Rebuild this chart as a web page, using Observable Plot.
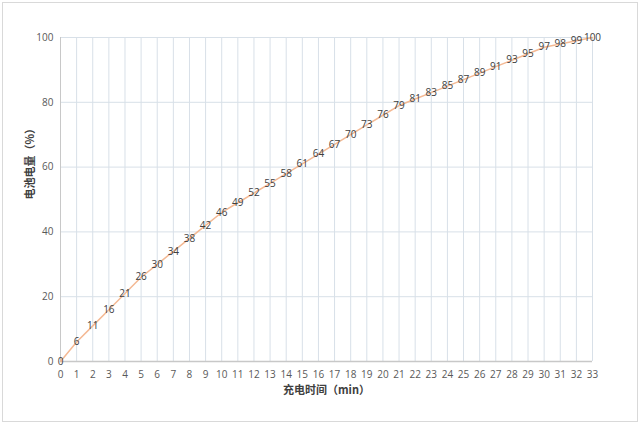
<!DOCTYPE html>
<html>
<head>
<meta charset="utf-8">
<script src="https://cdn.jsdelivr.net/npm/d3@7"></script>
<script src="https://cdn.jsdelivr.net/npm/@observablehq/plot@0.6"></script>
<style>
  html, body { margin: 0; padding: 0; background: #fff; }
  #chart svg { display: block; outline: 1px solid #d9d9d9; outline-offset: -3px; }
</style>
</head>
<body>
<div id="chart"></div>
<script>
const minutes = [0,1,2,3,4,5,6,7,8,9,10,11,12,13,14,15,16,17,18,19,20,21,22,23,24,25,26,27,28,29,30,31,32,33];
const battery = [0,6,11,16,21,26,30,34,38,42,46,49,52,55,58,61,64,67,70,73,76,79,81,83,85,87,89,91,93,95,97,98,99,100];
const xTicks = minutes;
const yTicks = [0,20,40,60,80,100];
const xLabel = "充电时间（min）";
const yLabel = "电池电量（%）";

const data = minutes.map((m, i) => ({m, v: battery[i]}));

const chart = Plot.plot({
  width: 640,
  height: 424,
  marginLeft: 60,
  marginRight: 48,
  marginTop: 37,
  marginBottom: 63,
  style: {fontFamily: "'Open Sans', 'Noto Sans CJK SC', sans-serif", fontSize: "10px", color: "#595959", background: "#fff"},
  x: {domain: [0, 33], ticks: xTicks, tickSize: 0, tickPadding: 9, label: null},
  y: {domain: [0, 100], ticks: yTicks, tickSize: 0, tickPadding: 7, label: null},
  marks: [
    Plot.gridX(xTicks, {stroke: "#d8e0e8", strokeOpacity: 1}),
    Plot.gridY(yTicks, {stroke: "#d8e0e8", strokeOpacity: 1}),
    Plot.ruleX([0], {stroke: "#c8c8c8"}),
    Plot.ruleY([0], {stroke: "#c8c8c8", strokeWidth: 1.5}),
    Plot.axisX({ticks: xTicks, tickSize: 0, tickPadding: 9, fontSize: 10, fill: "#595959"}),
    Plot.axisY({ticks: yTicks, tickSize: 0, tickPadding: 7, fontSize: 10, fill: "#595959"}),
    Plot.line(data, {x: "m", y: "v", stroke: "#f4b994", strokeWidth: 1.5}),
    Plot.text(data, {x: "m", y: "v", text: "v", fontSize: 10, fill: "#404040"}),
    Plot.text([xLabel], {frameAnchor: "bottom", dy: 32, fontSize: 11, fontWeight: "bold", fill: "#404040",
      fontFamily: "'Noto Sans CJK SC', sans-serif"}),
    Plot.text([yLabel], {frameAnchor: "left", dx: -30, rotate: -90, fontSize: 11, fontWeight: "bold", fill: "#404040",
      fontFamily: "'Noto Sans CJK SC', sans-serif"})
  ]
});
document.getElementById("chart").append(chart);
</script>
</body>
</html>
